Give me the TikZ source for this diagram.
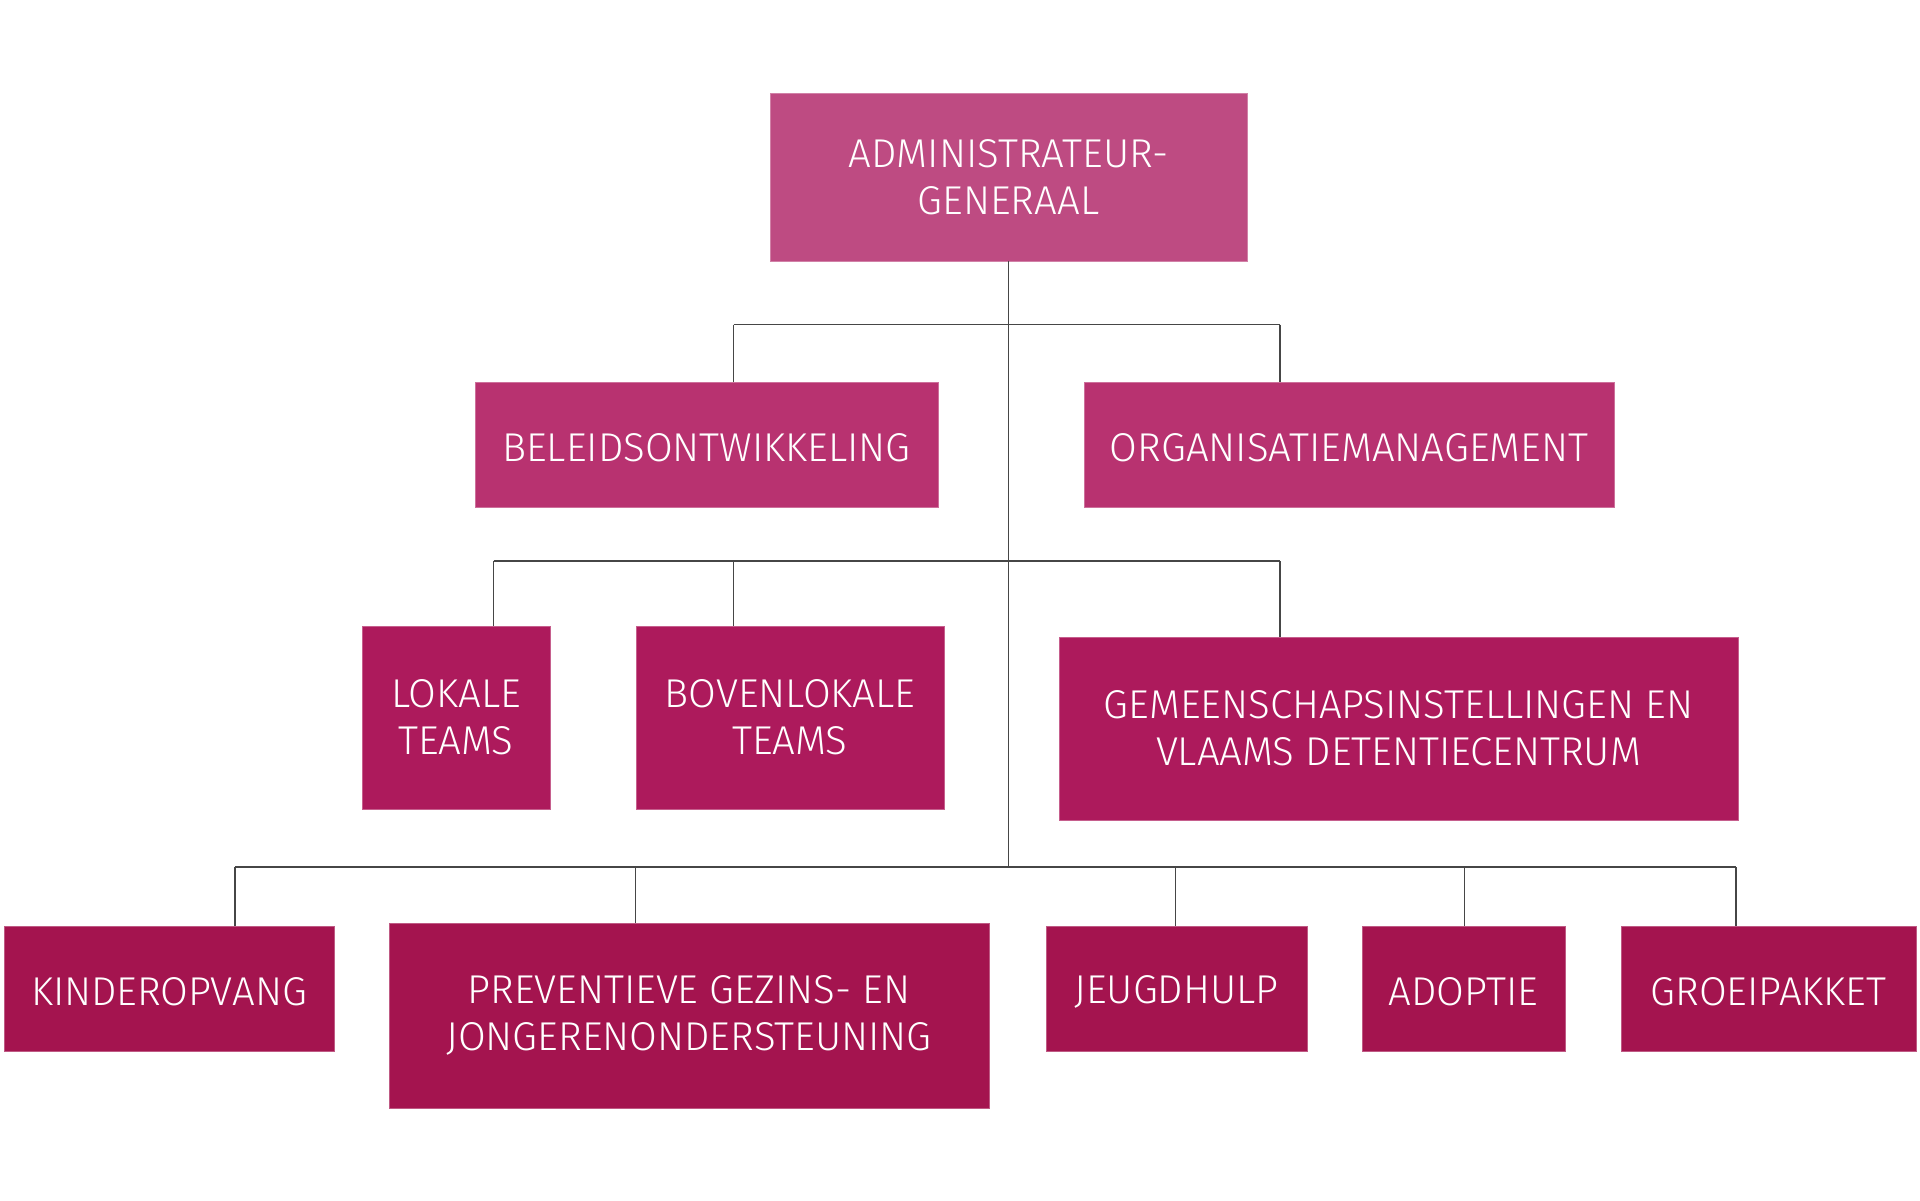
\documentclass[tikz,border=0pt]{standalone}
\usepackage{fontspec}
\setmainfont{Fira Sans Light}

\definecolor{agpink}{RGB}{190,75,130}
\definecolor{staffpink}{RGB}{184,50,112}
\definecolor{teampink}{RGB}{173,26,92}
\definecolor{agencypink}{RGB}{164,20,79}
\definecolor{linegray}{RGB}{70,70,70}

\tikzset{
    orgbox/.style={fill=#1, draw=#1!70!white, line width=0.4pt, text=white,
        align=center, inner sep=0pt,
        font=\fontsize{20.1}{23.5}\selectfont,
        execute at begin node={\rule{0pt}{17pt}}},
    orgline/.style={draw=linegray, line width=0.75pt},
}

\begin{document}
\begin{tikzpicture}[x=0.5pt, y=-0.5pt]
    \useasboundingbox (0,0) rectangle (1920,1200);

    % top
    \node[orgbox=agpink, minimum width=238.5pt, minimum height=84pt] (ag) at (1008.5,177) {ADMINISTRATEUR-\\GENERAAL};

    % staff
    \node[orgbox=staffpink, minimum width=231.5pt, minimum height=62.5pt] (beleid) at (706.5,444.5) {BELEIDSONTWIKKELING};
    \node[orgbox=staffpink, minimum width=265pt, minimum height=62.5pt] (orgman) at (1349,444.5) {ORGANISATIEMANAGEMENT};

    % teams
    \node[orgbox=teampink, minimum width=94pt, minimum height=91.5pt] (lokaal) at (456,717.5) {LOKALE\\TEAMS};
    \node[orgbox=teampink, minimum width=154pt, minimum height=91.5pt] (bovenlokaal) at (790,717.5) {BOVENLOKALE\\TEAMS};
    \node[orgbox=teampink, minimum width=339.5pt, minimum height=91.5pt] (gemeen) at (1398.5,728.5) {GEMEENSCHAPSINSTELLINGEN EN\\VLAAMS DETENTIECENTRUM};

    % agencies
    \node[orgbox=agencypink, minimum width=165pt, minimum height=62.5pt] (kinder) at (169,988.5) {KINDEROPVANG};
    \node[orgbox=agencypink, minimum width=300pt, minimum height=92.5pt] (prev) at (689,1015.5) {PREVENTIEVE GEZINS- EN\\JONGERENONDERSTEUNING};
    \node[orgbox=agencypink, minimum width=130.5pt, minimum height=62.5pt] (jeugd) at (1176.5,988.5) {JEUGDHULP};
    \node[orgbox=agencypink, minimum width=101.5pt, minimum height=62.5pt] (adoptie) at (1463.5,988.5) {ADOPTIE};
    \node[orgbox=agencypink, minimum width=147.5pt, minimum height=62.5pt] (groei) at (1768.5,988.5) {GROEIPAKKET};

    % bus points
    \coordinate (staffL) at (733.5,324.5);
    \coordinate (staffR) at (1280,324.5);
    \coordinate (teamL) at (493.5,561);
    \coordinate (teamM) at (733.5,561);
    \coordinate (teamR) at (1280,561);
    \coordinate (agL) at (235,867);
    \coordinate (agP) at (635.5,867);
    \coordinate (agJ) at (1175.5,867);
    \coordinate (agA) at (1464.5,867);
    \coordinate (agR) at (1736,867);

    % lines
    \draw[orgline] (ag.south) -- (ag.south |- agL);
    \draw[orgline] (staffL) -- (staffR);
    \draw[orgline] (teamL) -- (teamR);
    \draw[orgline] (agL) -- (agR);

    \draw[orgline] (staffL) -- (staffL |- beleid.north);
    \draw[orgline] (staffR) -- (staffR |- orgman.north);
    \draw[orgline] (teamL) -- (teamL |- lokaal.north);
    \draw[orgline] (teamM) -- (teamM |- bovenlokaal.north);
    \draw[orgline] (teamR) -- (teamR |- gemeen.north);
    \draw[orgline] (agL) -- (agL |- kinder.north);
    \draw[orgline] (agP) -- (agP |- prev.north);
    \draw[orgline] (agJ) -- (agJ |- jeugd.north);
    \draw[orgline] (agA) -- (agA |- adoptie.north);
    \draw[orgline] (agR) -- (agR |- groei.north);
\end{tikzpicture}
\end{document}
